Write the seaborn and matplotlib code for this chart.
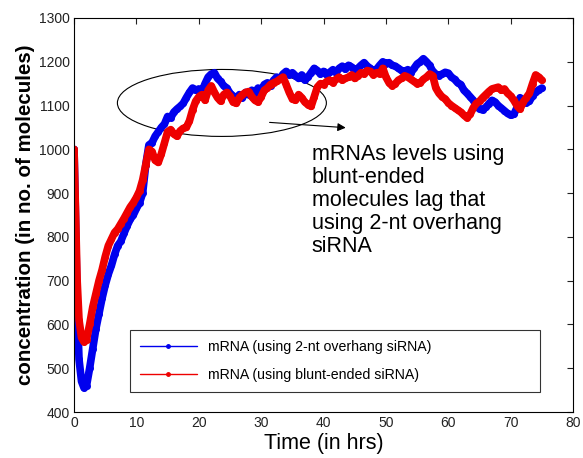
import numpy as np
import pandas as pd
import matplotlib
matplotlib.use("Agg")
import matplotlib.pyplot as plt
import seaborn as sns
from matplotlib.patches import Ellipse
from matplotlib.lines import Line2D

# time points (hrs)
time_hrs = [0, 0.2, 0.5, 0.8, 1.2, 1.6, 2.0, 2.5, 3, 3.5, 4, 4.5, 5, 5.5, 6, 6.5, 7, 7.5, 8, 8.5,
            9, 9.5, 10, 10.5, 11, 11.5, 12, 12.5, 13, 13.5, 14, 14.5, 15, 15.5, 16, 16.5, 17, 17.5,
            18, 18.5, 19, 19.5, 20, 20.5, 21, 21.5, 22, 22.5, 23, 23.5, 24, 24.5, 25, 25.5, 26, 26.5,
            27, 27.5, 28, 28.5, 29, 29.5, 30, 30.5, 31, 31.5, 32, 32.5, 33, 33.5, 34, 34.5, 35, 35.5,
            36, 36.5, 37, 37.5, 38, 38.5, 39, 39.5, 40, 40.5, 41, 41.5, 42, 42.5, 43, 43.5, 44, 44.5,
            45, 45.5, 46, 46.5, 47, 47.5, 48, 48.5, 49, 49.5, 50, 50.5, 51, 51.5, 52, 52.5, 53, 53.5,
            54, 54.5, 55, 55.5, 56, 56.5, 57, 57.5, 58, 58.5, 59, 59.5, 60, 60.5, 61, 61.5, 62, 62.5,
            63, 63.5, 64, 64.5, 65, 65.5, 66, 66.5, 67, 67.5, 68, 68.5, 69, 69.5, 70, 70.5, 71, 71.5,
            72, 72.5, 73, 73.5, 74, 74.5, 75]

# mRNA using 2-nt overhang siRNA (blue)
mrna_overhang = [1000, 870, 640, 520, 470, 455, 460, 500, 545, 590, 625, 660, 690, 715, 735, 760, 780, 790, 808, 825,
                 840, 850, 865, 878, 900, 965, 1010, 1015, 1030, 1040, 1050, 1058, 1075, 1072, 1085, 1092, 1098, 1105,
                 1118, 1130, 1140, 1135, 1138, 1132, 1150, 1165, 1172, 1175, 1162, 1155, 1145, 1140, 1128, 1122, 1115, 1125,
                 1118, 1130, 1125, 1135, 1128, 1140, 1135, 1148, 1152, 1145, 1158, 1165, 1160, 1172, 1178, 1170, 1175, 1168,
                 1162, 1170, 1158, 1165, 1175, 1185, 1180, 1172, 1178, 1170, 1176, 1182, 1175, 1185, 1190, 1183, 1192, 1188,
                 1180, 1185, 1192, 1198, 1190, 1185, 1178, 1183, 1192, 1200, 1196, 1198, 1192, 1190, 1185, 1180, 1178, 1182,
                 1175, 1185, 1195, 1200, 1207, 1200, 1192, 1178, 1172, 1168, 1172, 1176, 1174, 1165, 1160, 1152, 1148, 1135,
                 1128, 1120, 1112, 1100, 1092, 1090, 1096, 1104, 1112, 1108, 1100, 1094, 1088, 1082, 1078, 1080, 1095, 1118,
                 1112, 1106, 1110, 1122, 1130, 1136, 1140]

# mRNA using blunt-ended siRNA (red)
mrna_blunt = [1000, 880, 700, 610, 570, 560, 565, 600, 640, 670, 700, 725, 755, 780, 795, 810, 818, 830, 842, 855,
              868, 878, 890, 905, 930, 965, 1000, 995, 975, 970, 990, 1015, 1040, 1045, 1035, 1030, 1042, 1048,
              1050, 1065, 1090, 1110, 1120, 1125, 1112, 1135, 1145, 1130, 1118, 1110, 1125, 1130, 1122, 1108, 1105, 1118,
              1125, 1130, 1132, 1120, 1112, 1108, 1120, 1135, 1140, 1148, 1152, 1155, 1160, 1165, 1148, 1130, 1115, 1112,
              1125, 1118, 1108, 1102, 1098, 1120, 1142, 1150, 1148, 1155, 1158, 1152, 1160, 1165, 1158, 1162, 1165, 1170,
              1162, 1168, 1175, 1172, 1180, 1178, 1170, 1175, 1172, 1185, 1165, 1152, 1145, 1150, 1158, 1162, 1168, 1165,
              1160, 1155, 1150, 1152, 1160, 1165, 1172, 1168, 1140, 1128, 1120, 1115, 1106, 1100, 1095, 1090, 1085, 1078,
              1072, 1080, 1095, 1105, 1110, 1118, 1125, 1132, 1138, 1140, 1142, 1135, 1138, 1128, 1122, 1112, 1100, 1092,
              1108, 1118, 1128, 1150, 1170, 1165, 1158]

series_labels = ["mRNA (using 2-nt overhang siRNA)", "mRNA (using blunt-ended siRNA)"]
series_colors = ["#0000ee", "#ee0000"]

annotation_text = "mRNAs levels using\nblunt-ended\nmolecules lag that\nusing 2-nt overhang\nsiRNA"

df = pd.DataFrame({
    "time": time_hrs * 2,
    "value": mrna_overhang + mrna_blunt,
    "series": [series_labels[0]] * len(time_hrs) + [series_labels[1]] * len(time_hrs),
})

sns.set_style("white")
plt.rcParams["font.family"] = ["Liberation Sans", "DejaVu Sans"]
plt.rcParams["text.color"] = "black"
plt.rcParams["axes.labelcolor"] = "black"

fig = plt.figure(figsize=(5.83, 4.58), dpi=100)
ax = fig.add_axes([0.127, 0.1004, 0.856, 0.8603])

sns.lineplot(data=df, x="time", y="value", hue="series", hue_order=series_labels,
             palette=dict(zip(series_labels, series_colors)), sort=False,
             lw=5.5, marker="o", markersize=5, markeredgewidth=0, legend=False, ax=ax)

ax.set_xlim(0, 80)
ax.set_ylim(400, 1300)
ax.set_xticks(range(0, 81, 10))
ax.set_yticks(range(400, 1301, 100))
ax.tick_params(direction="in", length=4, width=0.8, top=True, right=True,
               labelsize=10, colors="#222222", pad=3)
for s in ax.spines.values():
    s.set_color("black")
    s.set_linewidth(0.8)

ax.set_xlabel("Time (in hrs)", fontsize=15.5, labelpad=2)
ax.set_ylabel("concentration (in no. of molecules)", fontsize=14.8, fontweight="bold", labelpad=3)

# ellipse + arrow annotation
ax.add_patch(Ellipse((23.7, 1106), 33.5, 153, fill=False, edgecolor="black", lw=0.8))
ax.annotate("", xy=(44, 1049), xytext=(30.9, 1062),
            arrowprops=dict(arrowstyle="-|>", color="black", lw=0.8, mutation_scale=12))
ax.text(38.1, 1012, annotation_text, fontsize=15.5, va="top", ha="left", linespacing=1.12)

handles = [Line2D([0], [0], color=c, lw=1, marker=".", markersize=5) for c in series_colors]
leg = ax.legend(handles, series_labels, loc="lower left", bbox_to_anchor=(0.112, 0.051, 0.822, 0.162),
                mode="expand", borderaxespad=0, fontsize=10.2, frameon=True, fancybox=False,
                handlelength=4.0, borderpad=0.7, labelspacing=1.0)
leg.get_frame().set_edgecolor("black")
leg.get_frame().set_linewidth(0.8)

fig.savefig("out.png", dpi=100)
